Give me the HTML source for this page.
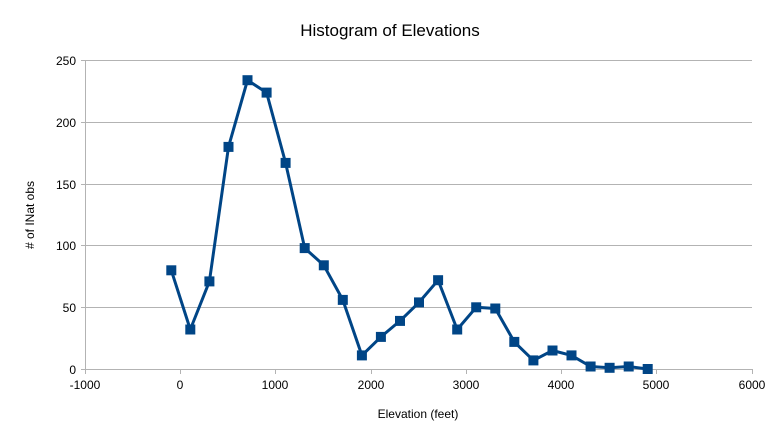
<!DOCTYPE html>
<html><head><meta charset="utf-8"><style>
body{margin:0;background:#fff}
svg text{font-family:"Liberation Sans",sans-serif;fill:#000}
</style></head><body>
<svg width="780" height="439" viewBox="0 0 780 439" xmlns="http://www.w3.org/2000/svg">
<rect width="780" height="439" fill="#fff"/>
<text x="390" y="36" font-size="17" text-anchor="middle">Histogram of Elevations</text>
<g stroke="#b3b3b3" stroke-width="1">
<line x1="81" y1="60.5" x2="752" y2="60.5"/>
<line x1="81" y1="122.5" x2="752" y2="122.5"/>
<line x1="81" y1="184.5" x2="752" y2="184.5"/>
<line x1="81" y1="245.5" x2="752" y2="245.5"/>
<line x1="81" y1="307.5" x2="752" y2="307.5"/>
<line x1="81" y1="369.5" x2="752" y2="369.5"/>
<line x1="85.5" y1="60" x2="85.5" y2="374"/>
<line x1="180.5" y1="369" x2="180.5" y2="374"/>
<line x1="275.5" y1="369" x2="275.5" y2="374"/>
<line x1="371.5" y1="369" x2="371.5" y2="374"/>
<line x1="466.5" y1="369" x2="466.5" y2="374"/>
<line x1="561.5" y1="369" x2="561.5" y2="374"/>
<line x1="656.5" y1="369" x2="656.5" y2="374"/>
<line x1="752.5" y1="369" x2="752.5" y2="374"/>
</g>
<g font-size="12" text-anchor="end">
<text x="76" y="65">250</text><text x="76" y="127">200</text><text x="76" y="189">150</text>
<text x="76" y="250">100</text><text x="76" y="312">50</text><text x="76" y="374">0</text>
</g>
<g font-size="12" text-anchor="middle">
<text x="85" y="389">-1000</text><text x="180" y="389">0</text><text x="275" y="389">1000</text>
<text x="371" y="389">2000</text><text x="466" y="389">3000</text><text x="561" y="389">4000</text>
<text x="656" y="389">5000</text><text x="752" y="389">6000</text>
</g>
<text x="418" y="418" font-size="12" text-anchor="middle">Elevation (feet)</text>
<text transform="translate(34,215) rotate(-90)" font-size="12" text-anchor="middle"># of INat obs</text>
<polyline fill="none" stroke="#004586" stroke-width="3" stroke-linejoin="round" points="171.3,270.3 190.3,329.5 209.4,281.4 228.5,146.9 247.5,80.2 266.6,92.6 285.6,162.9 304.7,248.1 323.8,265.3 342.8,299.9 361.9,355.4 380.9,336.9 400,320.9 419,302.4 438.1,280.2 457.2,329.5 476.2,307.3 495.3,308.5 514.3,341.9 533.4,360.4 552.5,350.5 571.5,355.4 590.6,366.5 609.6,367.8 628.7,366.5 647.7,369"/>
<g fill="#004586">
<rect x="166.3" y="265.3" width="10" height="10"/><rect x="185.3" y="324.5" width="10" height="10"/><rect x="204.4" y="276.4" width="10" height="10"/><rect x="223.5" y="141.9" width="10" height="10"/><rect x="242.5" y="75.2" width="10" height="10"/><rect x="261.6" y="87.6" width="10" height="10"/><rect x="280.6" y="157.9" width="10" height="10"/><rect x="299.7" y="243.1" width="10" height="10"/><rect x="318.8" y="260.3" width="10" height="10"/><rect x="337.8" y="294.9" width="10" height="10"/><rect x="356.9" y="350.4" width="10" height="10"/><rect x="375.9" y="331.9" width="10" height="10"/><rect x="395" y="315.9" width="10" height="10"/><rect x="414" y="297.4" width="10" height="10"/><rect x="433.1" y="275.2" width="10" height="10"/><rect x="452.2" y="324.5" width="10" height="10"/><rect x="471.2" y="302.3" width="10" height="10"/><rect x="490.3" y="303.5" width="10" height="10"/><rect x="509.3" y="336.9" width="10" height="10"/><rect x="528.4" y="355.4" width="10" height="10"/><rect x="547.5" y="345.5" width="10" height="10"/><rect x="566.5" y="350.4" width="10" height="10"/><rect x="585.6" y="361.5" width="10" height="10"/><rect x="604.6" y="362.8" width="10" height="10"/><rect x="623.7" y="361.5" width="10" height="10"/><rect x="642.7" y="364" width="10" height="10"/>
</g>
</svg>
</body></html>
